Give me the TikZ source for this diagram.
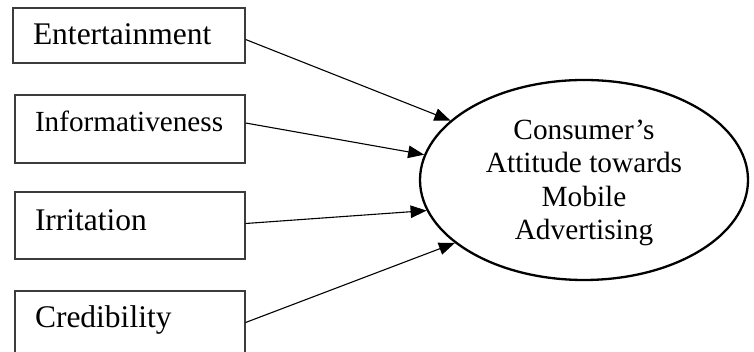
\documentclass[tikz,border=0pt]{standalone}
\usepackage{fontspec}
\setmainfont{Liberation Serif}
\usepackage{xcolor}
\usepackage{tikz}
\usetikzlibrary{arrows.meta, shapes.geometric}
\definecolor{boxgray}{RGB}{60,60,60}

\begin{document}
\begin{tikzpicture}[
  x=1pt, y=1pt,
  factor/.style={rectangle, draw=boxgray, line width=1.2pt, fill=white,
                 minimum height=67pt, text width=190pt, inner xsep=20pt,
                 align=left, text height=20pt, text depth=10pt,
                 font=\fontsize{31.5}{36}\selectfont},
  attitude/.style={ellipse, draw=black, line width=2.3pt, fill=white,
                   minimum width=328pt, minimum height=200pt, inner sep=0pt,
                   align=center, font=\fontsize{29.3}{33.5}\selectfont},
  arr/.style={-{Triangle[length=16pt, width=12.5pt]}, line width=1.1pt, draw=black}
]
\clip (0,0) rectangle (754,352);
\fill[white] (0,0) rectangle (754,352);

% Factors
\node[factor, minimum height=55pt, text width=192pt, text depth=1pt] (ent) at (129, 316.5) {Entertainment};
\node[factor, minimum height=68pt, text depth=14pt, font=\fontsize{29.2}{34}\selectfont] (inf) at (130, 223) {Informativeness};
\node[factor, text depth=9pt] (irr) at (130, 126.5) {Irritation};
\node[factor, text depth=13pt] (cred) at (130, 27.5) {Credibility};

% Attitude
\node[attitude, text depth=-3pt] (att) at (584, 172) {Consumer’s\\Attitude towards\\Mobile\\Advertising};

% Factors -> Attitude
\draw[arr] ([yshift=-4pt]ent.east) -- (att.156.5);
\draw[arr] ([yshift=6pt]inf.east)  -- (att.171.7);
\draw[arr] ([yshift=2pt]irr.east)  -- (att.191.5);
\draw[arr] ([yshift=2pt]cred.east) -- (att.206);

\end{tikzpicture}
\end{document}
